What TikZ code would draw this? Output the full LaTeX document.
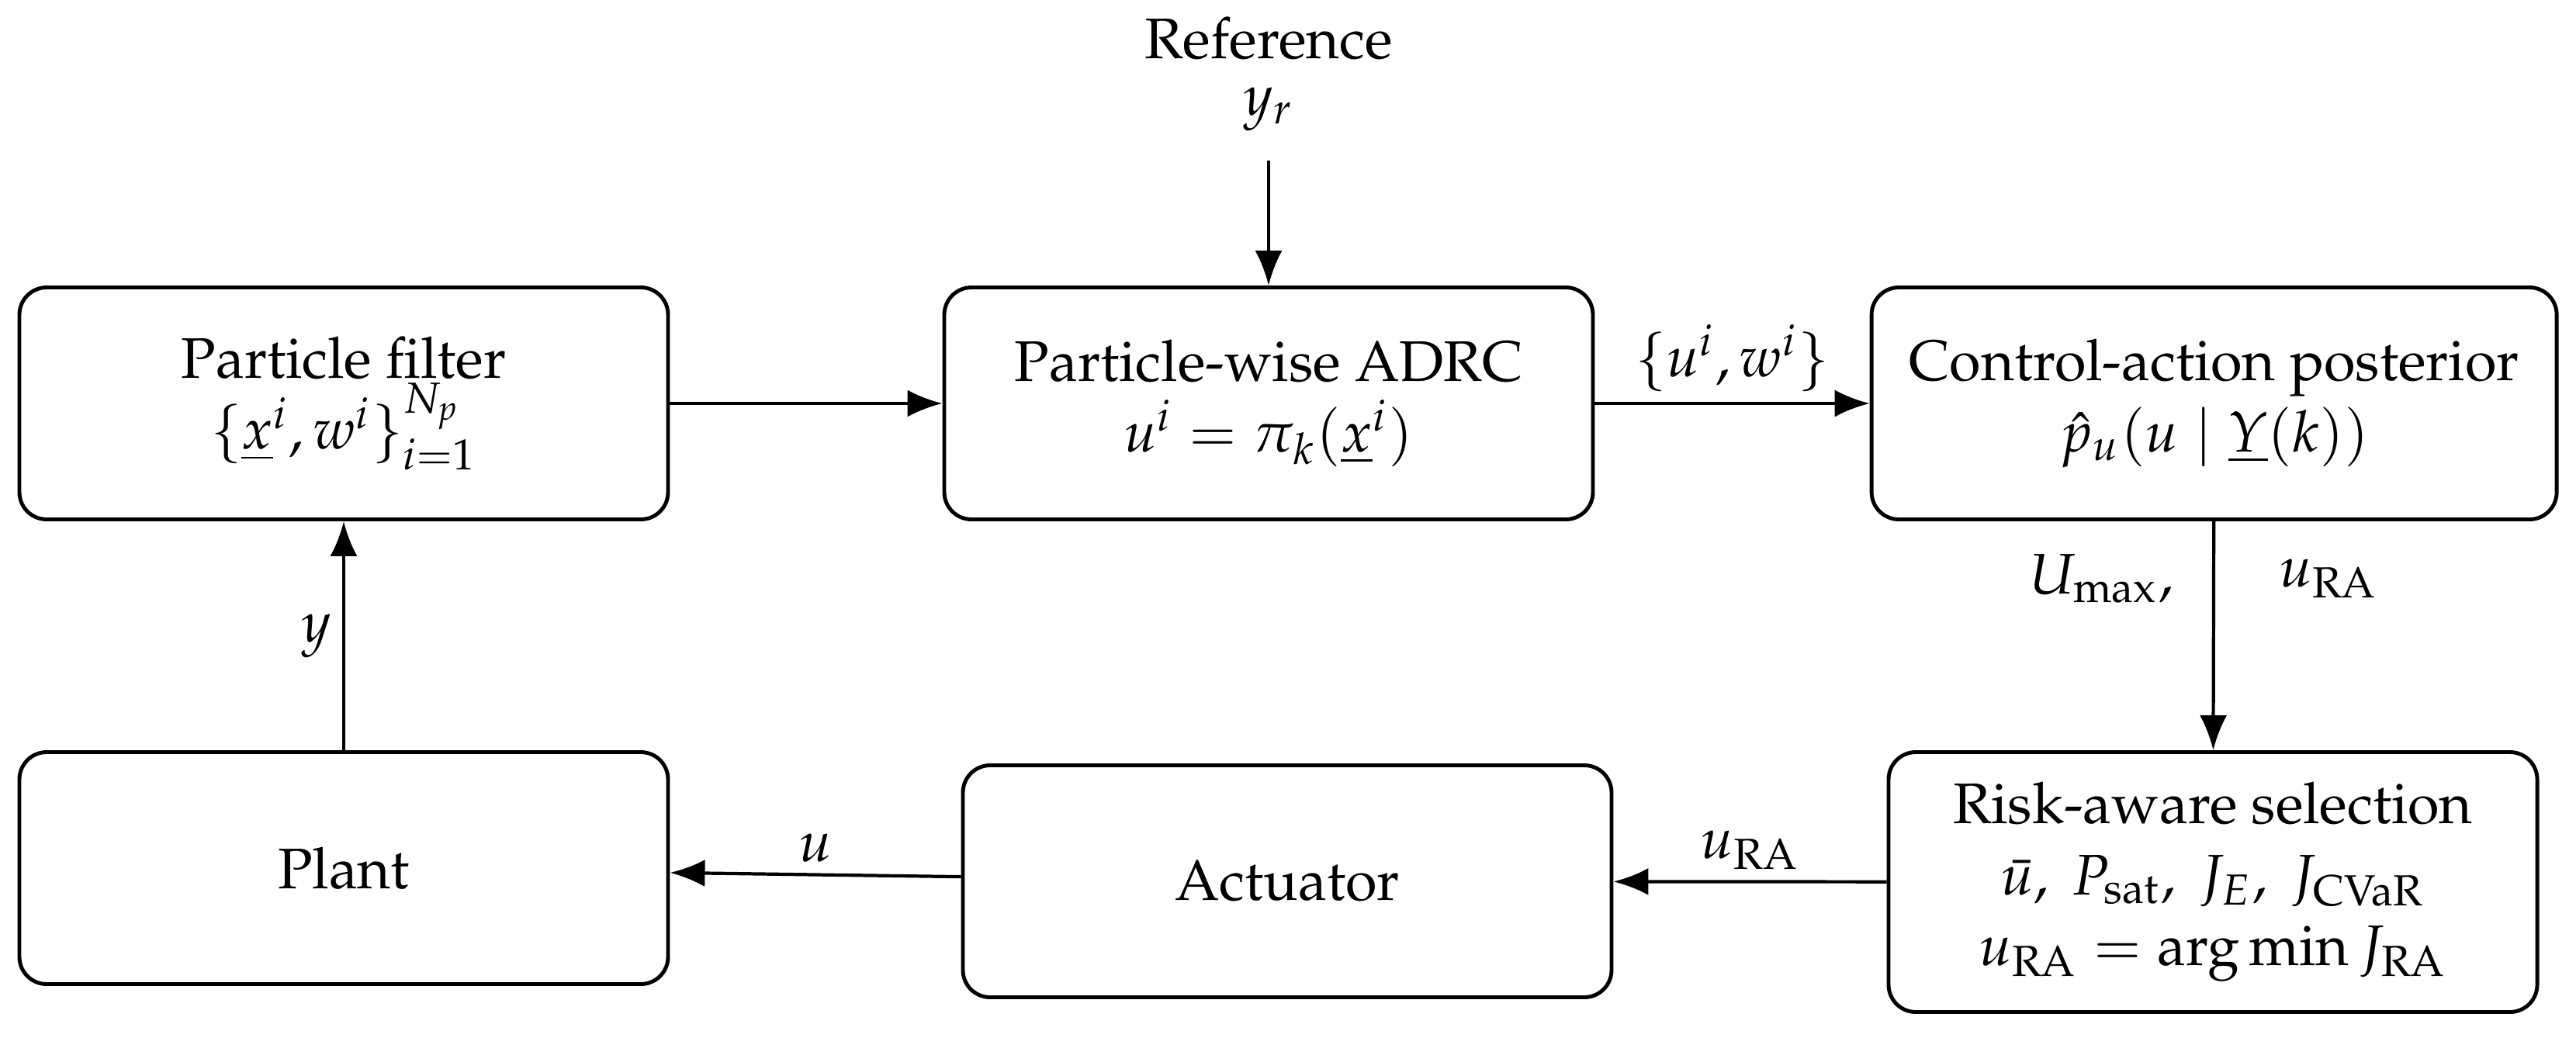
\documentclass[tikz,border=0pt]{standalone}
\usepackage[T1]{fontenc}
\usepackage{mathpazo}
\usepackage{amsmath}
\usepackage{tikz}
\usetikzlibrary{arrows.meta, positioning}

\begin{document}
\begin{tikzpicture}[
    every node/.style={font=\fontsize{10.5}{13}\selectfont},
    block/.style={draw, line width=0.7pt, rounded corners=5pt, align=center,
                  minimum width=4.18cm, minimum height=1.495cm, inner sep=2pt},
    sig/.style={-{Latex[length=6.4pt,width=5pt]}, line width=0.6pt},
    lbl/.style={inner sep=2pt}
]
\useasboundingbox (0,0) rectangle (16.6,6.685);
% upper row
\node[block] (pf)   at (2.215,4.085) {Particle filter\\ $\{\underline{x}^i, w^i\}_{i=1}^{N_p}$};
\node[block] (adrc) at (8.175,4.085) {Particle-wise ADRC\\ $u^i = \pi_k(\underline{x}^i)$};
\node[block, minimum width=4.415cm] (cap) at (14.268,4.085) {Control-action posterior\\ $\hat{p}_u(u \mid \underline{Y}(k))$};
% lower row
\node[block] (plant) at (2.215,1.09)  {Plant};
\node[block] (act)   at (8.295,1.005) {Actuator};
\node[block, minimum height=1.675cm] (ra) at (14.26,1.0)
  {Risk-aware selection\\ $\bar{u},\ P_{\mathrm{sat}},\ J_E,\ J_{\mathrm{CVaR}}$\\ $u_{\mathrm{RA}} = \arg\min J_{\mathrm{RA}}$};
% reference input
\node[anchor=south, align=center, inner sep=0pt, font=\fontsize{10.5}{10.3}\selectfont] (ref) at (8.175,5.835) {Reference\\ $y_r$};
\coordinate (refin) at (8.175,5.65);
\draw[sig] (refin) -- (adrc);
% signals
\draw[sig] (pf) -- (adrc);
\draw[sig] (adrc) -- node[lbl, above] {$\{u^i, w^i\}$} (cap);
\draw[sig] (cap) -- node[lbl, pos=0.25, left, xshift=-0.18cm] {$U_{\max},$}
                    node[lbl, pos=0.25, right, xshift=0.34cm] {$u_{\mathrm{RA}}$} (ra);
\draw[sig] (ra) -- node[lbl, above] {$u_{\mathrm{RA}}$} (act);
\draw[sig] (act) -- node[lbl, above] {$u$} (plant);
\draw[sig] (plant) -- node[lbl, left] {$y$} (pf);
\end{tikzpicture}
\end{document}
